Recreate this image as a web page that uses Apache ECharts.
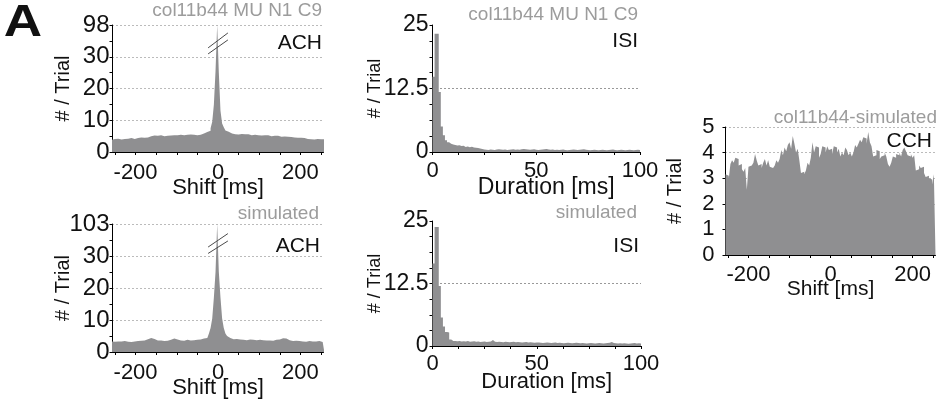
<!DOCTYPE html>
<html><head><meta charset="utf-8">
<script src="https://cdn.jsdelivr.net/npm/echarts@6/dist/echarts.min.js"></script>
<style>html,body{margin:0;padding:0;background:#fff}#c{width:941px;height:402px}</style>
</head><body><div id="c"></div>
<script>
// ---------- data ----------
// ACH: 4 ms bins centred on -256 ... 256 ms (129 bins)
const achBinStart = -258, achBinWidth = 4;
const achTopCounts = [
 3.8,4.1,3.9,4.2,4.0,3.9,4.3,4.1,4.0,4.2,
 4.2,4.4,4.3,4.1,4.5,4.4,4.3,4.6,4.4,4.5,4.7,4.6,
 4.8,5.0,4.9,5.2,5.0,5.1,4.9,5.3,5.2,5.0,5.2,5.1,
 5.3,5.2,5.4,5.3,5.5,5.3,5.2,5.4,5.6,5.3,5.5,5.4,
 5.3,5.5,5.2,5.4,5.6,5.3,5.5,5.4,5.7,5.8,
 6.0,6.3,6.5,6.7,7.5,9.5,15,25.5,98,25,13,9,7.8,6.8,6.4,6.1,5.8,
 5.7,5.6,5.8,5.5,5.6,5.7,5.5,5.6,5.4,5.6,
 5.5,5.3,5.5,5.4,5.6,5.3,5.4,5.2,5.4,5.3,5.1,5.3,
 5.2,5.0,5.2,5.1,4.9,5.1,5.0,4.8,5.0,4.9,4.7,4.8,
 4.6,4.7,4.5,4.6,4.4,4.5,4.3,4.5,4.2,4.4,4.3,
 4.1,4.2,4.0,4.1,3.9,4.0,4.1,3.8,4.0,3.9,4.0
];
const achSimCounts = [
 3.3,3.2,3.4,3.3,3.1,3.3,3.2,3.4,3.3,3.2,
 3.3,3.1,3.4,3.3,3.2,3.4,3.3,3.5,3.4,3.6,3.8,4.0,
 4.3,4.4,4.3,4.1,3.8,3.6,3.5,3.6,3.5,3.4,3.6,3.5,
 3.6,3.8,4.0,4.2,4.1,3.9,3.7,3.6,3.7,3.5,3.6,3.8,
 3.7,3.6,3.8,3.7,3.9,3.8,3.7,3.9,4.0,4.2,
 4.1,4.4,5.0,5.8,7.5,10.5,17,25,103,25,17,10.5,7.5,5.8,5.0,4.4,4.1,
 4.0,3.9,4.1,3.8,3.9,4.0,3.8,3.9,3.7,3.8,
 3.9,3.7,3.8,3.6,3.7,3.9,3.8,3.6,3.7,3.8,3.6,3.5,
 3.6,3.7,3.5,3.6,3.8,3.7,3.9,4.1,4.3,4.4,4.2,3.9,
 3.7,3.5,3.4,3.6,3.5,3.3,3.4,3.5,3.3,3.4,3.2,
 3.3,3.4,3.2,3.3,3.5,3.3,3.2,3.4,3.3,3.1,3.3
];
const achTopMax = 98, achSimMax = 103, achBreakAt = 30;
// ISI: 1 ms bins 0 ... 100 ms
const isiBinStart = 0, isiBinWidth = 1;
const isiTopCounts = [
 14.8,23.3,23.3,11.8,5.0,3.3,2.3,1.9,1.6,1.5,
 1.4,1.3,1.35,1.2,1.25,1.0,1.1,0.95,1.05,0.9,
 0.85,0.8,0.7,0.6,0.5,0.45,0.4,0.5,0.45,0.4,
 0.5,0.55,0.5,0.45,0.5,0.4,0.45,0.5,0.55,0.45,
 0.5,0.45,0.55,0.6,0.55,0.5,0.45,0.5,0.55,0.45,
 0.4,0.45,0.5,0.55,0.6,0.5,0.45,0.5,0.4,0.45,
 0.4,0.45,0.5,0.4,0.35,0.4,0.45,0.5,0.45,0.4,
 0.45,0.5,0.55,0.45,0.4,0.35,0.4,0.45,0.4,0.35,
 0.4,0.45,0.4,0.35,0.4,0.45,0.5,0.4,0.35,0.4,
 0.45,0.4,0.35,0.4,0.45,0.4,0.35,0.4,0.45,0.4
];
const isiSimCounts = [
 16.5,23.8,23.8,12.0,5.7,3.9,2.8,2.7,1.3,1.0,
 1.0,0.95,1.0,0.9,0.95,0.9,1.0,0.85,0.9,0.95,
 0.85,0.9,0.8,0.85,0.9,0.8,0.85,0.9,1.2,0.85,
 0.8,0.85,0.8,0.75,0.85,0.8,0.75,0.8,0.85,0.75,
 0.8,0.75,0.7,0.75,0.8,0.7,0.75,0.7,0.65,0.7,
 0.7,0.65,0.6,0.65,0.7,0.65,0.6,0.65,0.7,0.6,
 0.65,0.6,0.55,0.6,0.65,0.6,0.55,0.6,0.65,0.6,
 0.55,0.6,0.55,0.5,0.55,0.6,0.55,0.5,0.55,0.6,
 0.55,0.5,0.55,0.6,0.65,0.8,0.6,0.55,0.5,0.55,
 0.5,0.55,0.5,0.45,0.5,0.55,0.6,0.5,0.55,0.5
];
// CCH: 4 ms bins from -256 to 256 ms (128 bins)
const cchBinStart = -256, cchBinWidth = 4;
const cchCounts = [
 3.15,3.1,3.0,3.55,3.7,3.6,3.8,3.75,3.5,3.55,
 3.35,3.25,3.4,2.55,3.45,3.5,3.45,3.6,3.95,3.7,
 3.5,3.55,3.4,3.6,3.75,3.5,3.7,3.45,3.4,3.35,
 3.5,3.7,3.6,3.75,4.1,3.9,4.2,4.05,4.3,4.4,
 4.15,4.65,4.35,4.0,4.15,3.7,3.2,3.25,3.15,3.3,
 3.6,3.5,3.8,4.4,4.0,4.25,4.2,3.8,3.95,4.25,
 4.2,4.0,4.25,4.1,4.15,3.95,4.25,4.2,4.0,4.15,
 3.85,4.0,3.9,4.2,4.1,3.9,4.0,3.85,4.0,4.3,
 4.2,4.35,4.5,4.4,4.6,4.55,4.35,4.8,4.4,4.25,
 3.85,3.9,4.1,4.05,3.75,3.85,3.9,4.0,3.85,3.55,
 3.45,3.6,3.85,3.8,3.95,3.9,4.0,3.85,4.1,4.2,
 4.05,3.9,3.85,3.95,3.8,3.9,3.3,3.35,3.5,3.4,
 3.45,3.2,3.05,3.1,3.0,2.95,2.75,3.15
];
// axis ticks / labels
const shiftLabels = [-200, 0, 200];
const shiftTicks = [-250,-200,-150,-100,-50,0,50,100,150,200,250];
const durationLabels = [0, 50, 100];
const durationTicks = [0,12.5,25,37.5,50,62.5,75,87.5,100];
const achYLabels = [0,10,20,30,40];
const isiYLabels = [0,12.5,25];

// ---------- drawing ----------
const FONT = '"Liberation Sans", Arial, Helvetica, sans-serif';
const FILL = '#8f8f91';
function brokenY(top){ return v => v <= achBreakAt ? v : achBreakAt + (v - achBreakAt) / (top - achBreakAt) * 10; }
function stepData(start, w, counts, map){
  const m = map || (v => v);
  const d = counts.map((v,i) => [start + w*i, m(v)]);
  d.push([start + w*counts.length, m(counts[counts.length-1])]);
  return d;
}
function histSeries(xi, data, extra){
  return Object.assign({type:'line', xAxisIndex:xi, yAxisIndex:xi, step:'end', data,
    symbol:'none', showSymbol:false, lineStyle:{width:0}, areaStyle:{color:FILL, opacity:1},
    silent:true, animation:false, z:2}, extra||{});
}
function breakMarks(lines){
  return {silent:true, symbol:['none','none'], label:{show:false}, animation:false,
    lineStyle:{color:'#4a4a4a', width:1, type:'solid'},
    data: lines.map(l => [{coord:[l[0],l[1]]},{coord:[l[2],l[3]]}])};
}
const axLine = {show:true, onZero:false, lineStyle:{color:'#000', width:1}};
function xAx(gi, min, max, ticks, labels, name, nameGap, nameSize, labelMargin, namePad){
  return {gridIndex:gi, type:'value', min, max,
    axisLine:axLine,
    axisTick:{show:true, length:3, customValues:ticks, lineStyle:{color:'#000'}},
    axisLabel:{customValues:labels, fontSize:22, fontFamily:FONT, color:'#111', margin:labelMargin},
    splitLine:{show:false},
    name, nameLocation:'middle', nameGap, nameMoveOverlap:false,
    nameTextStyle:{fontSize:nameSize, fontFamily:FONT, color:'#111', padding:namePad||0}};
}
function yAx(gi, min, max, interval, minorSplit, labels, fmt, grid, nameGap, nameSize, labelMargin, labelSize){
  return {gridIndex:gi, type:'value', min, max, interval,
    axisLine:axLine,
    axisTick:{show:true, length:3, lineStyle:{color:'#000'}},
    minorTick:{show:minorSplit > 1, splitNumber:minorSplit, length:3, lineStyle:{color:'#000'}},
    minorSplitLine:{show:false},
    axisLabel:Object.assign({formatter:fmt, fontSize:labelSize, fontFamily:FONT, color:'#111', margin:labelMargin},
      labels ? {customValues:labels} : {}),
    splitLine:grid,
    name:'# / Trial', nameLocation:'middle', nameRotate:90, nameGap, nameMoveOverlap:false,
    nameTextStyle:{fontSize:nameSize, fontFamily:FONT, color:'#111'}};
}
const achGrid = {show:true, showMinLine:false, lineStyle:{color:'#777', width:1, type:[1,3]}};
const isiGrid = {show:true, showMinLine:false, showMaxLine:false, lineStyle:{color:'#333', width:1, type:[1,3]}};
const cchGrid = {show:true, showMinLine:false, lineStyle:{color:'#777', width:1, type:[1,3]}};

const grids = [
  {left:112.5, top:25, width:211, height:127},
  {left:112.5, top:224, width:211, height:128},
  {left:432.5, top:25, width:207.5, height:127},
  {left:432.5, top:221, width:208.5, height:125},
  {left:725.5, top:127, width:210, height:128}
].map(g => Object.assign({outerBoundsMode:'none', containLabel:false}, g));

function txt(x, y, text, size, color, align, extra){
  return Object.assign({type:'text', x, y, silent:true, style:{text, fill:color,
    font: (extra && extra.weight ? extra.weight + ' ' : '') + size + 'px ' + FONT,
    textAlign:align, align:align, textVerticalAlign:'middle', verticalAlign:'middle'}}, extra && extra.el || {});
}
const GREY = '#9c9c9c', INK = '#111';

const option = {
  backgroundColor:'#fff',
  animation:false,
  grid: grids,
  xAxis: [
    xAx(0, -256, 256, shiftTicks, shiftLabels, 'Shift [ms]', 25, 22, 10),
    xAx(1, -256, 256, shiftTicks, shiftLabels, 'Shift [ms]', 25, 22, 10),
    xAx(2, 0, 100, durationTicks, durationLabels, 'Duration [ms]', 24, 23, 8, [0,0,0,20]),
    xAx(3, 0, 100, durationTicks, durationLabels, 'Duration [ms]', 25, 22, 7, [0,0,0,20]),
    xAx(4, -256, 256, shiftTicks, shiftLabels, 'Shift [ms]', 24, 21, 9)
  ],
  yAxis: [
    yAx(0, 0, 40, 10, 2, achYLabels, v => v === 40 ? String(achTopMax) : String(v), achGrid, 39, 20, 3, 24),
    yAx(1, 0, 40, 10, 2, achYLabels, v => v === 40 ? String(achSimMax) : String(v), achGrid, 39, 20, 3, 24),
    yAx(2, 0, 25, 12.5, 4, isiYLabels, v => String(v), isiGrid, 48, 18, 4, 23),
    yAx(3, 0, 25, 12.5, 4, isiYLabels, v => String(v), isiGrid, 48, 18, 4, 23),
    yAx(4, 0, 5, 1, 0, null, v => String(v), cchGrid, 40, 20, 11, 22)
  ],
  series: [
    histSeries(0, stepData(achBinStart, achBinWidth, achTopCounts, brokenY(achTopMax)),
      {markLine: breakMarks([[-24,30.9,24,35.3],[-24,32.8,24,37.5]])}),
    histSeries(1, stepData(achBinStart, achBinWidth, achSimCounts, brokenY(achSimMax)),
      {markLine: breakMarks([[-24,30.8,24,34.7],[-24,32.8,24,37.0]])}),
    histSeries(2, stepData(isiBinStart, isiBinWidth, isiTopCounts)),
    histSeries(3, stepData(isiBinStart, isiBinWidth, isiSimCounts)),
    histSeries(4, stepData(cchBinStart, cchBinWidth, cchCounts))
  ],
  graphic: [
    txt(23, 24, 'A', 45, INK, 'center', {weight:'bold', el:{scaleX:1.18}}),
    txt(322, 10.5, 'col11b44 MU N1 C9', 19, GREY, 'right'),
    txt(322, 43, 'ACH', 21, INK, 'right'),
    txt(638, 15, 'col11b44 MU N1 C9', 19, GREY, 'right'),
    txt(638, 41, 'ISI', 21, INK, 'right'),
    txt(319, 213.5, 'simulated', 19, GREY, 'right'),
    txt(320, 246, 'ACH', 21, INK, 'right'),
    txt(637, 213, 'simulated', 19, GREY, 'right'),
    txt(639, 246, 'ISI', 21, INK, 'right'),
    txt(937, 117.5, 'col11b44-simulated', 19, GREY, 'right'),
    txt(932, 141.5, 'CCH', 21, INK, 'right')
  ]
};
const chart = echarts.init(document.getElementById('c'), null, {renderer:'canvas'});
chart.setOption(option);
</script></body></html>
